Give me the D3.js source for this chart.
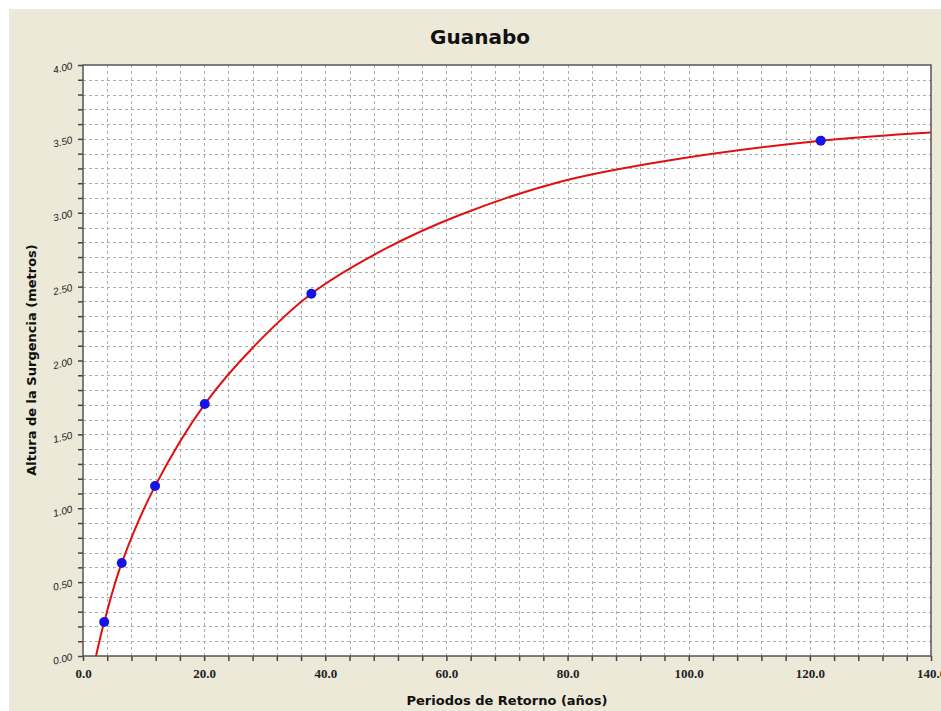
<!DOCTYPE html>
<html>
<head>
<meta charset="utf-8">
<script src="https://cdn.jsdelivr.net/npm/d3@7"></script>
<style>
  html, body { margin: 0; padding: 0; background: #ffffff; }
</style>
</head>
<body>
<script>
// observed return periods (years) and surge heights (m)
const obsPeriods = [3.5, 6.4, 11.9, 20.1, 37.7, 121.8];
const obsHeights = [0.23, 0.63, 1.15, 1.705, 2.452, 3.488];

// fitted curve
const fitPeriods = [2.15, 3.5, 6.4, 11.9, 20.1, 28.1, 37.7, 50.1, 62.2, 78.8, 96.4, 121.8, 140];
const fitHeights = [0, 0.23, 0.63, 1.15, 1.705, 2.09, 2.452, 2.76, 2.985, 3.21, 3.352, 3.488, 3.544];

const xTickLabels = ["0.0", "20.0", "40.0", "60.0", "80.0", "100.0", "120.0", "140.0"];
const yTickLabels = ["0.00", "0.50", "1.00", "1.50", "2.00", "2.50", "3.00", "3.50", "4.00"];

const width = 941;
const height = 711;
//plot area box
const marginTop = 65;
const marginRight = 10;
const marginBottom = 55;
const marginLeft = 83;

const svg = d3.select("body").append("svg")
    .attr("width", width)
    .attr("height", height);

//beige panel (white strip left and top)
svg.append("rect")
    .attr("x", 9).attr("y", 9)
    .attr("width", width - 9).attr("height", height - 9)
    .attr("fill", "#ece9d8");

const x = d3.scaleLinear().domain([0, 140]).range([marginLeft, width - marginRight]);
const y = d3.scaleLinear().domain([0, 4]).range([height - marginBottom, marginTop]);

svg.append("rect")
    .attr("x", x(0)).attr("y", y(4))
    .attr("width", x(140) - x(0)).attr("height", y(0) - y(4))
    .attr("fill", "#ffffff");

const xMinor = d3.range(0, 141, 4);
const yMinor = d3.range(0, 41, 1).map(d => d / 10);

//dashed grid
const grid = svg.append("g")
    .attr("stroke", "#adadad")
    .attr("stroke-width", 1)
    .attr("stroke-dasharray", "3,3");
grid.selectAll("line.v")
    .data(xMinor.filter(d => d > 0 && d < 140))
    .join("line")
    .attr("x1", d => Math.round(x(d)) + 0.5).attr("x2", d => Math.round(x(d)) + 0.5)
    .attr("y1", y(4)).attr("y2", y(0));
grid.selectAll("line.h")
    .data(yMinor.filter(d => d > 0 && d < 4))
    .join("line")
    .attr("y1", d => Math.round(y(d)) + 0.5).attr("y2", d => Math.round(y(d)) + 0.5)
    .attr("x1", x(0)).attr("x2", x(140));

// x axis
const xAxis = d3.axisBottom(x)
    .tickValues(xMinor)
    .tickSize(5)
    .tickFormat(d => d % 20 === 0 ? xTickLabels[d / 20] : "");
const gx = svg.append("g")
    .attr("transform", `translate(0,${y(0)})`)
    .call(xAxis);
gx.select(".domain").remove();
gx.selectAll("line").attr("stroke", "#444").attr("stroke-width", 1.5);
gx.selectAll("text")
    .attr("font-family", "'Liberation Serif', serif")
    .attr("font-weight", "bold")
    .attr("font-size", "13px")
    .attr("fill", "#222")
    .attr("dy", "1.05em");

// y axis
const yAxis = d3.axisLeft(y)
    .tickValues(yMinor)
    .tickSize(5)
    .tickFormat("");
const gy = svg.append("g")
    .attr("transform", `translate(${x(0)},0)`)
    .call(yAxis);
gy.select(".domain").remove();
gy.selectAll("line").attr("stroke", "#444").attr("stroke-width", 1.5);

//rotated y labels
svg.append("g").selectAll("text")
    .data(yTickLabels)
    .join("text")
    .text(d => d)
    .attr("transform", d => `translate(${x(0) - 10},${y(+d) + 4}) rotate(-14)`)
    .attr("text-anchor", "end")
    .attr("font-family", "'Liberation Sans', Arial, sans-serif")
    .attr("font-size", "10px")
    .attr("font-style", "italic")
    .attr("fill", "#222");

//curve and points, clipped to the plot box
svg.append("clipPath").attr("id", "plotclip")
    .append("rect")
    .attr("x", x(0)).attr("y", y(4))
    .attr("width", x(140) - x(0)).attr("height", y(0) - y(4) + 4);

const fit = fitPeriods.map((t, i) => [t, fitHeights[i]]);
const line = d3.line()
    .x(d => x(d[0]))
    .y(d => y(d[1]))
    .curve(d3.curveCatmullRom.alpha(0.5));

svg.append("path")
    .datum(fit)
    .attr("clip-path", "url(#plotclip)")
    .attr("fill", "none")
    .attr("stroke", "#e01010")
    .attr("stroke-width", 2)
    .attr("d", line);

svg.append("g")
    .selectAll("circle")
    .data(obsPeriods)
    .join("circle")
    .attr("cx", d => x(d))
    .attr("cy", (d, i) => y(obsHeights[i]))
    .attr("r", 5)
    .attr("fill", "#1414e6");

//border of the plot
svg.append("rect")
    .attr("x", x(0)).attr("y", y(4))
    .attr("width", x(140) - x(0)).attr("height", y(0) - y(4))
    .attr("fill", "none")
    .attr("stroke", "#555")
    .attr("stroke-width", 1.5);

svg.append("text")
    .text("Guanabo")
    .attr("x", 480).attr("y", 44)
    .attr("text-anchor", "middle")
    .attr("font-family", "'DejaVu Sans', sans-serif")
    .attr("font-weight", "bold")
    .attr("font-size", "20px")
    .attr("fill", "#111");

svg.append("text")
    .text("Periodos de Retorno (años)")
    .attr("x", 507).attr("y", 705)
    .attr("text-anchor", "middle")
    .attr("font-family", "'DejaVu Sans', sans-serif")
    .attr("font-weight", "bold")
    .attr("font-size", "13px")
    .attr("fill", "#111");

svg.append("text")//vertical label
    .text("Altura de la Surgencia (metros)")
    .attr("transform", "translate(36,360) rotate(-90)")
    .attr("text-anchor", "middle")
    .attr("font-family", "'DejaVu Sans', sans-serif")
    .attr("font-weight", "bold")
    .attr("font-size", "13px")
    .attr("fill", "#111");
</script>
</body>
</html>
